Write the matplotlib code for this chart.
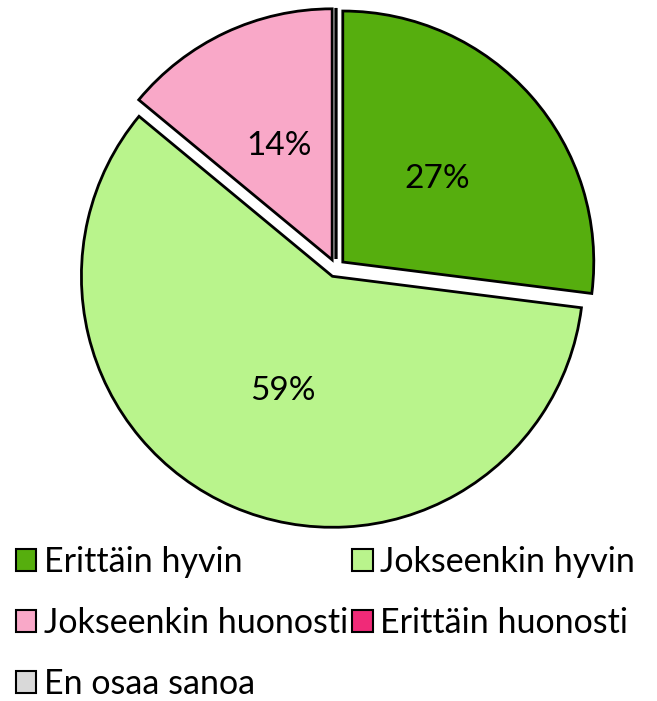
import matplotlib
matplotlib.use("Agg")
import matplotlib.pyplot as plt
from matplotlib.patches import Patch

categories = ["Erittäin hyvin", "Jokseenkin hyvin", "Jokseenkin huonosti", "Erittäin huonosti", "En osaa sanoa"]
values = [27, 59, 14, 0, 0]
colors = ["#56AE0E", "#B9F48C", "#F9A8C8", "#F02A78", "#D9D9D9"]

plt.rcParams['font.family'] = ['Lato', 'DejaVu Sans']

W, H = 657, 701
fig = plt.figure(figsize=(W/100, H/100), dpi=100)
cx, cy, r = 336, 268, 251
lim = 1.2
half = lim * r
ax = fig.add_axes([(cx - half)/W, (H - cy - half)/H, 2*half/W, 2*half/H])

def fmt(p):
    return f"{p:.0f}%" if p > 0.5 else ""

ax.pie(values, colors=colors, startangle=90, counterclock=False,
       explode=[0.036]*len(values), radius=1,
       wedgeprops=dict(edgecolor="black", linewidth=2),
       autopct=fmt, pctdistance=0.5,
       textprops=dict(fontsize=24, color="black"))
ax.set_xlim(-lim, lim)
ax.set_ylim(-lim, lim)
ax.axis("off")

# legend filled row-wise (matplotlib fills column-wise)
order = [0, 2, 4, 1, 3]
handles = [Patch(facecolor=colors[i], edgecolor="black", linewidth=1.5) for i in order]
labels = [categories[i] for i in order]
fig.legend(handles, labels, ncol=2, loc="upper left",
           bbox_to_anchor=(16/W, 1 - 546/H), frameon=False,
           fontsize=24.5, handlelength=0.6, handleheight=0.6, handletextpad=0.22,
           columnspacing=0.12, labelspacing=0.85, borderaxespad=0, borderpad=0)

fig.savefig("out.png", dpi=100)
